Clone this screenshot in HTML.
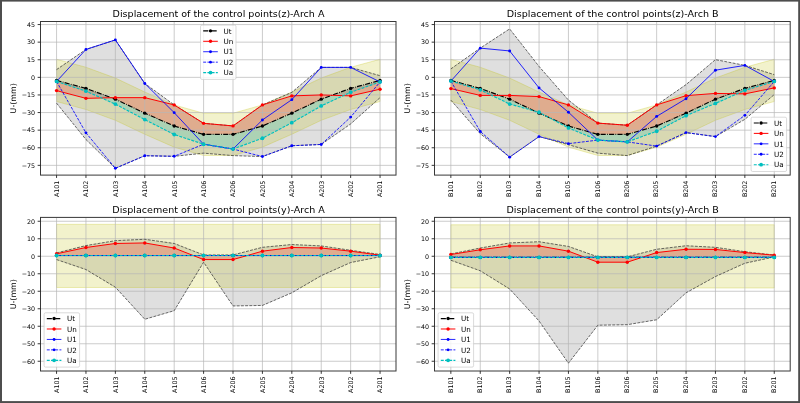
<!DOCTYPE html>
<html lang="en"><head><meta charset="utf-8">
<title>Displacement of the control points</title>
<style>
html,body{margin:0;padding:0;background:#ffffff;}
body{width:800px;height:403px;overflow:hidden;}
svg{display:block;font-family:'DejaVu Sans', 'Liberation Sans', sans-serif;}
text{fill:#000000;}
</style></head><body>
<svg width="800" height="403" viewBox="0 0 800 403">
<rect x="0" y="0" width="800" height="403" fill="#ffffff"/>
<g id="chart1">
<clipPath id="clip1"><rect x="40.5" y="21.5" width="355.5" height="153.6"/></clipPath>
<rect x="40.5" y="21.5" width="355.5" height="153.6" fill="#ffffff"/>
<g clip-path="url(#clip1)">
<polygon points="56.55,69.61 85.96,49.43 115.37,39.92 144.78,83.45 174.19,104.92 203.6,123.34 233.01,125.92 262.42,104.92 291.83,92.37 321.24,67.38 350.65,67.38 380.06,75.71 380.06,97.65 350.65,123.93 321.24,144.46 291.83,145.75 262.42,156.55 233.01,155.61 203.6,153.15 174.19,156.31 144.78,155.73 115.37,168.28 85.96,139.53 56.55,103.16" fill="#808080" fill-opacity="0.25" stroke="none"/>
<polygon points="56.55,59.28 85.96,67.26 115.37,78.05 144.78,92.02 174.19,104.92 203.6,113.25 233.01,113.25 262.42,104.92 291.83,92.02 321.24,78.05 350.65,67.26 380.06,59.28 380.06,101.52 350.65,109.5 321.24,120.29 291.83,134.26 262.42,147.16 233.01,155.49 203.6,155.49 174.19,147.16 144.78,134.26 115.37,120.29 85.96,109.5 56.55,101.52" fill="#bfbf00" fill-opacity="0.2" stroke="#bfbf00" stroke-opacity="0.45" stroke-width="0.6"/>
<polygon points="56.55,80.4 85.96,88.38 115.37,99.17 144.78,113.14 174.19,126.04 203.6,134.37 233.01,134.37 262.42,126.04 291.83,113.14 321.24,99.17 350.65,88.38 380.06,80.4 380.06,89.2 350.65,95.89 321.24,94.95 291.83,95.89 262.42,104.92 233.01,125.92 203.6,123.34 174.19,104.92 144.78,97.65 115.37,97.65 85.96,98.35 56.55,90.61" fill="#ff0000" fill-opacity="0.2"/>
<polygon points="56.55,80.4 85.96,88.38 115.37,99.17 144.78,113.14 174.19,126.04 203.6,134.37 233.01,134.37 262.42,126.04 291.83,113.14 321.24,99.17 350.65,88.38 380.06,80.4 380.06,81.93 350.65,92.25 321.24,105.92 291.83,122.7 262.42,138.24 233.01,149.04 203.6,144.23 174.19,134.49 144.78,119.59 115.37,104.1 85.96,91.14 56.55,81.46" fill="#00bfbf" fill-opacity="0.2"/>
<g stroke="#b6b6b6" stroke-width="0.7" fill="none">
<line x1="56.55" y1="21.5" x2="56.55" y2="175.1"/>
<line x1="85.96" y1="21.5" x2="85.96" y2="175.1"/>
<line x1="115.37" y1="21.5" x2="115.37" y2="175.1"/>
<line x1="144.78" y1="21.5" x2="144.78" y2="175.1"/>
<line x1="174.19" y1="21.5" x2="174.19" y2="175.1"/>
<line x1="203.6" y1="21.5" x2="203.6" y2="175.1"/>
<line x1="233.01" y1="21.5" x2="233.01" y2="175.1"/>
<line x1="262.42" y1="21.5" x2="262.42" y2="175.1"/>
<line x1="291.83" y1="21.5" x2="291.83" y2="175.1"/>
<line x1="321.24" y1="21.5" x2="321.24" y2="175.1"/>
<line x1="350.65" y1="21.5" x2="350.65" y2="175.1"/>
<line x1="380.06" y1="21.5" x2="380.06" y2="175.1"/>
<line x1="40.5" y1="24.55" x2="396" y2="24.55"/>
<line x1="40.5" y1="42.15" x2="396" y2="42.15"/>
<line x1="40.5" y1="59.75" x2="396" y2="59.75"/>
<line x1="40.5" y1="77.35" x2="396" y2="77.35"/>
<line x1="40.5" y1="94.95" x2="396" y2="94.95"/>
<line x1="40.5" y1="112.55" x2="396" y2="112.55"/>
<line x1="40.5" y1="130.15" x2="396" y2="130.15"/>
<line x1="40.5" y1="147.75" x2="396" y2="147.75"/>
<line x1="40.5" y1="165.35" x2="396" y2="165.35"/>
</g>
<polyline points="56.55,69.61 85.96,49.43 115.37,39.92 144.78,83.45 174.19,104.92 203.6,123.34 233.01,125.92 262.42,104.92 291.83,92.37 321.24,67.38 350.65,67.38 380.06,75.71" fill="none" stroke="#383838" stroke-width="0.75" stroke-dasharray="2.94,1.27"/>
<polyline points="56.55,103.16 85.96,139.53 115.37,168.28 144.78,155.73 174.19,156.31 203.6,153.15 233.01,155.61 262.42,156.55 291.83,145.75 321.24,144.46 350.65,123.93 380.06,97.65" fill="none" stroke="#383838" stroke-width="0.75" stroke-dasharray="2.94,1.27"/>
<polyline points="56.55,80.4 85.96,88.38 115.37,99.17 144.78,113.14 174.19,126.04 203.6,134.37 233.01,134.37 262.42,126.04 291.83,113.14 321.24,99.17 350.65,88.38 380.06,80.4" fill="none" stroke="#000000" stroke-width="1.15" stroke-dasharray="5.08,1.27,0.79,1.27" stroke-linejoin="round"/>
<g fill="#000000"><circle cx="56.55" cy="80.4" r="1.7"/><circle cx="85.96" cy="88.38" r="1.7"/><circle cx="115.37" cy="99.17" r="1.7"/><circle cx="144.78" cy="113.14" r="1.7"/><circle cx="174.19" cy="126.04" r="1.7"/><circle cx="203.6" cy="134.37" r="1.7"/><circle cx="233.01" cy="134.37" r="1.7"/><circle cx="262.42" cy="126.04" r="1.7"/><circle cx="291.83" cy="113.14" r="1.7"/><circle cx="321.24" cy="99.17" r="1.7"/><circle cx="350.65" cy="88.38" r="1.7"/><circle cx="380.06" cy="80.4" r="1.7"/></g>
<polyline points="56.55,90.61 85.96,98.35 115.37,97.65 144.78,97.65 174.19,104.92 203.6,123.34 233.01,125.92 262.42,104.92 291.83,95.89 321.24,94.95 350.65,95.89 380.06,89.2" fill="none" stroke="#ff0000" stroke-width="1.0" stroke-linejoin="round"/>
<g fill="#ff0000"><circle cx="56.55" cy="90.61" r="1.7"/><circle cx="85.96" cy="98.35" r="1.7"/><circle cx="115.37" cy="97.65" r="1.7"/><circle cx="144.78" cy="97.65" r="1.7"/><circle cx="174.19" cy="104.92" r="1.7"/><circle cx="203.6" cy="123.34" r="1.7"/><circle cx="233.01" cy="125.92" r="1.7"/><circle cx="262.42" cy="104.92" r="1.7"/><circle cx="291.83" cy="95.89" r="1.7"/><circle cx="321.24" cy="94.95" r="1.7"/><circle cx="350.65" cy="95.89" r="1.7"/><circle cx="380.06" cy="89.2" r="1.7"/></g>
<polyline points="56.55,81.46 85.96,49.43 115.37,39.92 144.78,83.45 174.19,112.67 203.6,144.23 233.01,149.04 262.42,119.94 291.83,99.64 321.24,67.38 350.65,67.38 380.06,81.93" fill="none" stroke="#0000ff" stroke-width="0.85" stroke-linejoin="round"/>
<g fill="#0000ff"><circle cx="56.55" cy="81.46" r="1.45"/><circle cx="85.96" cy="49.43" r="1.45"/><circle cx="115.37" cy="39.92" r="1.45"/><circle cx="144.78" cy="83.45" r="1.45"/><circle cx="174.19" cy="112.67" r="1.45"/><circle cx="203.6" cy="144.23" r="1.45"/><circle cx="233.01" cy="149.04" r="1.45"/><circle cx="262.42" cy="119.94" r="1.45"/><circle cx="291.83" cy="99.64" r="1.45"/><circle cx="321.24" cy="67.38" r="1.45"/><circle cx="350.65" cy="67.38" r="1.45"/><circle cx="380.06" cy="81.93" r="1.45"/></g>
<polyline points="56.55,81.46 85.96,132.85 115.37,168.28 144.78,155.73 174.19,156.31 203.6,144.23 233.01,149.04 262.42,156.55 291.83,145.75 321.24,144.46 350.65,117.12 380.06,81.93" fill="none" stroke="#0000ff" stroke-width="0.85" stroke-dasharray="2.94,1.27" stroke-linejoin="round"/>
<g fill="#0000ff"><circle cx="56.55" cy="81.46" r="1.45"/><circle cx="85.96" cy="132.85" r="1.45"/><circle cx="115.37" cy="168.28" r="1.45"/><circle cx="144.78" cy="155.73" r="1.45"/><circle cx="174.19" cy="156.31" r="1.45"/><circle cx="203.6" cy="144.23" r="1.45"/><circle cx="233.01" cy="149.04" r="1.45"/><circle cx="262.42" cy="156.55" r="1.45"/><circle cx="291.83" cy="145.75" r="1.45"/><circle cx="321.24" cy="144.46" r="1.45"/><circle cx="350.65" cy="117.12" r="1.45"/><circle cx="380.06" cy="81.93" r="1.45"/></g>
<polyline points="56.55,81.46 85.96,91.14 115.37,104.1 144.78,119.59 174.19,134.49 203.6,144.23 233.01,149.04 262.42,138.24 291.83,122.7 321.24,105.92 350.65,92.25 380.06,81.93" fill="none" stroke="#00bfbf" stroke-width="1.15" stroke-dasharray="2.94,1.27" stroke-linejoin="round"/>
<g fill="#00bfbf"><circle cx="56.55" cy="81.46" r="1.9"/><circle cx="85.96" cy="91.14" r="1.9"/><circle cx="115.37" cy="104.1" r="1.9"/><circle cx="144.78" cy="119.59" r="1.9"/><circle cx="174.19" cy="134.49" r="1.9"/><circle cx="203.6" cy="144.23" r="1.9"/><circle cx="233.01" cy="149.04" r="1.9"/><circle cx="262.42" cy="138.24" r="1.9"/><circle cx="291.83" cy="122.7" r="1.9"/><circle cx="321.24" cy="105.92" r="1.9"/><circle cx="350.65" cy="92.25" r="1.9"/><circle cx="380.06" cy="81.93" r="1.9"/></g>
</g>
<rect x="40.5" y="21.5" width="355.5" height="153.6" fill="none" stroke="#383838" stroke-width="1.0"/>
<g stroke="#222222" stroke-width="0.9">
<line x1="56.55" y1="175.1" x2="56.55" y2="177.95"/>
<line x1="85.96" y1="175.1" x2="85.96" y2="177.95"/>
<line x1="115.37" y1="175.1" x2="115.37" y2="177.95"/>
<line x1="144.78" y1="175.1" x2="144.78" y2="177.95"/>
<line x1="174.19" y1="175.1" x2="174.19" y2="177.95"/>
<line x1="203.6" y1="175.1" x2="203.6" y2="177.95"/>
<line x1="233.01" y1="175.1" x2="233.01" y2="177.95"/>
<line x1="262.42" y1="175.1" x2="262.42" y2="177.95"/>
<line x1="291.83" y1="175.1" x2="291.83" y2="177.95"/>
<line x1="321.24" y1="175.1" x2="321.24" y2="177.95"/>
<line x1="350.65" y1="175.1" x2="350.65" y2="177.95"/>
<line x1="380.06" y1="175.1" x2="380.06" y2="177.95"/>
<line x1="37.65" y1="24.55" x2="40.5" y2="24.55"/>
<line x1="37.65" y1="42.15" x2="40.5" y2="42.15"/>
<line x1="37.65" y1="59.75" x2="40.5" y2="59.75"/>
<line x1="37.65" y1="77.35" x2="40.5" y2="77.35"/>
<line x1="37.65" y1="94.95" x2="40.5" y2="94.95"/>
<line x1="37.65" y1="112.55" x2="40.5" y2="112.55"/>
<line x1="37.65" y1="130.15" x2="40.5" y2="130.15"/>
<line x1="37.65" y1="147.75" x2="40.5" y2="147.75"/>
<line x1="37.65" y1="165.35" x2="40.5" y2="165.35"/>
</g>
<g font-size="6.35">
<text x="35.1" y="26.87" text-anchor="end">45</text>
<text x="35.1" y="44.47" text-anchor="end">30</text>
<text x="35.1" y="62.07" text-anchor="end">15</text>
<text x="35.1" y="79.67" text-anchor="end">0</text>
<text x="35.1" y="97.27" text-anchor="end">−15</text>
<text x="35.1" y="114.87" text-anchor="end">−30</text>
<text x="35.1" y="132.47" text-anchor="end">−45</text>
<text x="35.1" y="150.07" text-anchor="end">−60</text>
<text x="35.1" y="167.67" text-anchor="end">−75</text>
<text transform="translate(58.87,180.6) rotate(-90)" text-anchor="end">A101</text>
<text transform="translate(88.28,180.6) rotate(-90)" text-anchor="end">A102</text>
<text transform="translate(117.69,180.6) rotate(-90)" text-anchor="end">A103</text>
<text transform="translate(147.1,180.6) rotate(-90)" text-anchor="end">A104</text>
<text transform="translate(176.51,180.6) rotate(-90)" text-anchor="end">A105</text>
<text transform="translate(205.92,180.6) rotate(-90)" text-anchor="end">A106</text>
<text transform="translate(235.33,180.6) rotate(-90)" text-anchor="end">A206</text>
<text transform="translate(264.74,180.6) rotate(-90)" text-anchor="end">A205</text>
<text transform="translate(294.15,180.6) rotate(-90)" text-anchor="end">A204</text>
<text transform="translate(323.56,180.6) rotate(-90)" text-anchor="end">A203</text>
<text transform="translate(352.97,180.6) rotate(-90)" text-anchor="end">A202</text>
<text transform="translate(382.38,180.6) rotate(-90)" text-anchor="end">A201</text>
</g>
<text font-size="7.9" transform="translate(15.9,98.3) rotate(-90)" text-anchor="middle">U-(mm)</text>
<text font-size="9.55" x="218.55" y="16.8" text-anchor="middle">Displacement of the control points(z)-Arch A</text>
<g>
<rect x="200.5" y="25.1" width="35.5" height="54.3" rx="1.5" ry="1.5" fill="#ffffff" fill-opacity="0.8" stroke="#c8c8c8" stroke-opacity="0.85" stroke-width="0.8"/>
<line x1="203.2" y1="30.85" x2="217.8" y2="30.85" stroke="#000000" stroke-width="1.15" stroke-dasharray="5.08,1.27,0.79,1.27"/>
<circle cx="210.5" cy="30.85" r="1.7" fill="#000000"/>
<text font-size="7.2" x="223.4" y="33.6">Ut</text>
<line x1="203.2" y1="41.29" x2="217.8" y2="41.29" stroke="#ff0000" stroke-width="1.0"/>
<circle cx="210.5" cy="41.29" r="1.7" fill="#ff0000"/>
<text font-size="7.2" x="223.4" y="44.04">Un</text>
<line x1="203.2" y1="51.73" x2="217.8" y2="51.73" stroke="#0000ff" stroke-width="0.85"/>
<circle cx="210.5" cy="51.73" r="1.45" fill="#0000ff"/>
<text font-size="7.2" x="223.4" y="54.48">U1</text>
<line x1="203.2" y1="62.17" x2="217.8" y2="62.17" stroke="#0000ff" stroke-width="0.85" stroke-dasharray="2.94,1.27"/>
<circle cx="210.5" cy="62.17" r="1.45" fill="#0000ff"/>
<text font-size="7.2" x="223.4" y="64.92">U2</text>
<line x1="203.2" y1="72.61" x2="217.8" y2="72.61" stroke="#00bfbf" stroke-width="1.15" stroke-dasharray="2.94,1.27"/>
<circle cx="210.5" cy="72.61" r="1.9" fill="#00bfbf"/>
<text font-size="7.2" x="223.4" y="75.36">Ua</text>
</g>
</g>
<g id="chart2">
<clipPath id="clip2"><rect x="434.5" y="21.5" width="355.7" height="153.6"/></clipPath>
<rect x="434.5" y="21.5" width="355.7" height="153.6" fill="#ffffff"/>
<g clip-path="url(#clip2)">
<polygon points="450.85,68.9 480.25,48.13 509.65,28.89 539.05,66.44 568.45,100.11 597.85,123.11 627.25,125.22 656.65,104.92 686.05,84.62 715.45,59.63 744.85,65.38 774.25,74.65 774.25,94.6 744.85,119.35 715.45,136.6 686.05,132.61 656.65,146.11 627.25,155.61 597.85,153.15 568.45,144.7 539.05,136.6 509.65,157.13 480.25,133.67 450.85,100.11" fill="#808080" fill-opacity="0.25" stroke="none"/>
<polygon points="450.85,59.28 480.25,67.26 509.65,78.05 539.05,92.02 568.45,104.92 597.85,113.25 627.25,113.25 656.65,104.92 686.05,92.02 715.45,78.05 744.85,67.26 774.25,59.28 774.25,101.52 744.85,109.5 715.45,120.29 686.05,134.26 656.65,147.16 627.25,155.49 597.85,155.49 568.45,147.16 539.05,134.26 509.65,120.29 480.25,109.5 450.85,101.52" fill="#bfbf00" fill-opacity="0.2" stroke="#bfbf00" stroke-opacity="0.45" stroke-width="0.6"/>
<polygon points="450.85,80.4 480.25,88.38 509.65,99.17 539.05,113.14 568.45,126.04 597.85,134.37 627.25,134.37 656.65,126.04 686.05,113.14 715.45,99.17 744.85,88.38 774.25,80.4 774.25,87.91 744.85,93.89 715.45,93.42 686.05,95.65 656.65,104.92 627.25,125.22 597.85,123.11 568.45,104.92 539.05,96.59 509.65,95.42 480.25,95.42 450.85,88.61" fill="#ff0000" fill-opacity="0.2"/>
<polygon points="450.85,80.4 480.25,88.38 509.65,99.17 539.05,113.14 568.45,126.04 597.85,134.37 627.25,134.37 656.65,126.04 686.05,113.14 715.45,99.17 744.85,88.38 774.25,80.4 774.25,81.46 744.85,90.37 715.45,103.4 686.05,115.66 656.65,131.26 627.25,141.88 597.85,140.12 568.45,127.92 539.05,112.26 509.65,104.04 480.25,89.79 450.85,81.1" fill="#00bfbf" fill-opacity="0.2"/>
<g stroke="#b6b6b6" stroke-width="0.7" fill="none">
<line x1="450.85" y1="21.5" x2="450.85" y2="175.1"/>
<line x1="480.25" y1="21.5" x2="480.25" y2="175.1"/>
<line x1="509.65" y1="21.5" x2="509.65" y2="175.1"/>
<line x1="539.05" y1="21.5" x2="539.05" y2="175.1"/>
<line x1="568.45" y1="21.5" x2="568.45" y2="175.1"/>
<line x1="597.85" y1="21.5" x2="597.85" y2="175.1"/>
<line x1="627.25" y1="21.5" x2="627.25" y2="175.1"/>
<line x1="656.65" y1="21.5" x2="656.65" y2="175.1"/>
<line x1="686.05" y1="21.5" x2="686.05" y2="175.1"/>
<line x1="715.45" y1="21.5" x2="715.45" y2="175.1"/>
<line x1="744.85" y1="21.5" x2="744.85" y2="175.1"/>
<line x1="774.25" y1="21.5" x2="774.25" y2="175.1"/>
<line x1="434.5" y1="24.55" x2="790.2" y2="24.55"/>
<line x1="434.5" y1="42.15" x2="790.2" y2="42.15"/>
<line x1="434.5" y1="59.75" x2="790.2" y2="59.75"/>
<line x1="434.5" y1="77.35" x2="790.2" y2="77.35"/>
<line x1="434.5" y1="94.95" x2="790.2" y2="94.95"/>
<line x1="434.5" y1="112.55" x2="790.2" y2="112.55"/>
<line x1="434.5" y1="130.15" x2="790.2" y2="130.15"/>
<line x1="434.5" y1="147.75" x2="790.2" y2="147.75"/>
<line x1="434.5" y1="165.35" x2="790.2" y2="165.35"/>
</g>
<polyline points="450.85,68.9 480.25,48.13 509.65,28.89 539.05,66.44 568.45,100.11 597.85,123.11 627.25,125.22 656.65,104.92 686.05,84.62 715.45,59.63 744.85,65.38 774.25,74.65" fill="none" stroke="#383838" stroke-width="0.75" stroke-dasharray="2.94,1.27"/>
<polyline points="450.85,100.11 480.25,133.67 509.65,157.13 539.05,136.6 568.45,144.7 597.85,153.15 627.25,155.61 656.65,146.11 686.05,132.61 715.45,136.6 744.85,119.35 774.25,94.6" fill="none" stroke="#383838" stroke-width="0.75" stroke-dasharray="2.94,1.27"/>
<polyline points="450.85,80.4 480.25,88.38 509.65,99.17 539.05,113.14 568.45,126.04 597.85,134.37 627.25,134.37 656.65,126.04 686.05,113.14 715.45,99.17 744.85,88.38 774.25,80.4" fill="none" stroke="#000000" stroke-width="1.15" stroke-dasharray="5.08,1.27,0.79,1.27" stroke-linejoin="round"/>
<g fill="#000000"><circle cx="450.85" cy="80.4" r="1.7"/><circle cx="480.25" cy="88.38" r="1.7"/><circle cx="509.65" cy="99.17" r="1.7"/><circle cx="539.05" cy="113.14" r="1.7"/><circle cx="568.45" cy="126.04" r="1.7"/><circle cx="597.85" cy="134.37" r="1.7"/><circle cx="627.25" cy="134.37" r="1.7"/><circle cx="656.65" cy="126.04" r="1.7"/><circle cx="686.05" cy="113.14" r="1.7"/><circle cx="715.45" cy="99.17" r="1.7"/><circle cx="744.85" cy="88.38" r="1.7"/><circle cx="774.25" cy="80.4" r="1.7"/></g>
<polyline points="450.85,88.61 480.25,95.42 509.65,95.42 539.05,96.59 568.45,104.92 597.85,123.11 627.25,125.22 656.65,104.92 686.05,95.65 715.45,93.42 744.85,93.89 774.25,87.91" fill="none" stroke="#ff0000" stroke-width="1.0" stroke-linejoin="round"/>
<g fill="#ff0000"><circle cx="450.85" cy="88.61" r="1.7"/><circle cx="480.25" cy="95.42" r="1.7"/><circle cx="509.65" cy="95.42" r="1.7"/><circle cx="539.05" cy="96.59" r="1.7"/><circle cx="568.45" cy="104.92" r="1.7"/><circle cx="597.85" cy="123.11" r="1.7"/><circle cx="627.25" cy="125.22" r="1.7"/><circle cx="656.65" cy="104.92" r="1.7"/><circle cx="686.05" cy="95.65" r="1.7"/><circle cx="715.45" cy="93.42" r="1.7"/><circle cx="744.85" cy="93.89" r="1.7"/><circle cx="774.25" cy="87.91" r="1.7"/></g>
<polyline points="450.85,81.1 480.25,48.13 509.65,50.95 539.05,87.91 568.45,112.2 597.85,140.12 627.25,141.88 656.65,116.42 686.05,98.7 715.45,70.19 744.85,65.38 774.25,81.46" fill="none" stroke="#0000ff" stroke-width="0.85" stroke-linejoin="round"/>
<g fill="#0000ff"><circle cx="450.85" cy="81.1" r="1.45"/><circle cx="480.25" cy="48.13" r="1.45"/><circle cx="509.65" cy="50.95" r="1.45"/><circle cx="539.05" cy="87.91" r="1.45"/><circle cx="568.45" cy="112.2" r="1.45"/><circle cx="597.85" cy="140.12" r="1.45"/><circle cx="627.25" cy="141.88" r="1.45"/><circle cx="656.65" cy="116.42" r="1.45"/><circle cx="686.05" cy="98.7" r="1.45"/><circle cx="715.45" cy="70.19" r="1.45"/><circle cx="744.85" cy="65.38" r="1.45"/><circle cx="774.25" cy="81.46" r="1.45"/></g>
<polyline points="450.85,81.1 480.25,131.44 509.65,157.13 539.05,136.6 568.45,143.64 597.85,140.12 627.25,141.88 656.65,146.11 686.05,132.61 715.45,136.6 744.85,115.36 774.25,81.46" fill="none" stroke="#0000ff" stroke-width="0.85" stroke-dasharray="2.94,1.27" stroke-linejoin="round"/>
<g fill="#0000ff"><circle cx="450.85" cy="81.1" r="1.45"/><circle cx="480.25" cy="131.44" r="1.45"/><circle cx="509.65" cy="157.13" r="1.45"/><circle cx="539.05" cy="136.6" r="1.45"/><circle cx="568.45" cy="143.64" r="1.45"/><circle cx="597.85" cy="140.12" r="1.45"/><circle cx="627.25" cy="141.88" r="1.45"/><circle cx="656.65" cy="146.11" r="1.45"/><circle cx="686.05" cy="132.61" r="1.45"/><circle cx="715.45" cy="136.6" r="1.45"/><circle cx="744.85" cy="115.36" r="1.45"/><circle cx="774.25" cy="81.46" r="1.45"/></g>
<polyline points="450.85,81.1 480.25,89.79 509.65,104.04 539.05,112.26 568.45,127.92 597.85,140.12 627.25,141.88 656.65,131.26 686.05,115.66 715.45,103.4 744.85,90.37 774.25,81.46" fill="none" stroke="#00bfbf" stroke-width="1.15" stroke-dasharray="2.94,1.27" stroke-linejoin="round"/>
<g fill="#00bfbf"><circle cx="450.85" cy="81.1" r="1.9"/><circle cx="480.25" cy="89.79" r="1.9"/><circle cx="509.65" cy="104.04" r="1.9"/><circle cx="539.05" cy="112.26" r="1.9"/><circle cx="568.45" cy="127.92" r="1.9"/><circle cx="597.85" cy="140.12" r="1.9"/><circle cx="627.25" cy="141.88" r="1.9"/><circle cx="656.65" cy="131.26" r="1.9"/><circle cx="686.05" cy="115.66" r="1.9"/><circle cx="715.45" cy="103.4" r="1.9"/><circle cx="744.85" cy="90.37" r="1.9"/><circle cx="774.25" cy="81.46" r="1.9"/></g>
</g>
<rect x="434.5" y="21.5" width="355.7" height="153.6" fill="none" stroke="#383838" stroke-width="1.0"/>
<g stroke="#222222" stroke-width="0.9">
<line x1="450.85" y1="175.1" x2="450.85" y2="177.95"/>
<line x1="480.25" y1="175.1" x2="480.25" y2="177.95"/>
<line x1="509.65" y1="175.1" x2="509.65" y2="177.95"/>
<line x1="539.05" y1="175.1" x2="539.05" y2="177.95"/>
<line x1="568.45" y1="175.1" x2="568.45" y2="177.95"/>
<line x1="597.85" y1="175.1" x2="597.85" y2="177.95"/>
<line x1="627.25" y1="175.1" x2="627.25" y2="177.95"/>
<line x1="656.65" y1="175.1" x2="656.65" y2="177.95"/>
<line x1="686.05" y1="175.1" x2="686.05" y2="177.95"/>
<line x1="715.45" y1="175.1" x2="715.45" y2="177.95"/>
<line x1="744.85" y1="175.1" x2="744.85" y2="177.95"/>
<line x1="774.25" y1="175.1" x2="774.25" y2="177.95"/>
<line x1="431.65" y1="24.55" x2="434.5" y2="24.55"/>
<line x1="431.65" y1="42.15" x2="434.5" y2="42.15"/>
<line x1="431.65" y1="59.75" x2="434.5" y2="59.75"/>
<line x1="431.65" y1="77.35" x2="434.5" y2="77.35"/>
<line x1="431.65" y1="94.95" x2="434.5" y2="94.95"/>
<line x1="431.65" y1="112.55" x2="434.5" y2="112.55"/>
<line x1="431.65" y1="130.15" x2="434.5" y2="130.15"/>
<line x1="431.65" y1="147.75" x2="434.5" y2="147.75"/>
<line x1="431.65" y1="165.35" x2="434.5" y2="165.35"/>
</g>
<g font-size="6.35">
<text x="429.1" y="26.87" text-anchor="end">45</text>
<text x="429.1" y="44.47" text-anchor="end">30</text>
<text x="429.1" y="62.07" text-anchor="end">15</text>
<text x="429.1" y="79.67" text-anchor="end">0</text>
<text x="429.1" y="97.27" text-anchor="end">−15</text>
<text x="429.1" y="114.87" text-anchor="end">−30</text>
<text x="429.1" y="132.47" text-anchor="end">−45</text>
<text x="429.1" y="150.07" text-anchor="end">−60</text>
<text x="429.1" y="167.67" text-anchor="end">−75</text>
<text transform="translate(452.57,180.6) rotate(-90)" text-anchor="end">B101</text>
<text transform="translate(481.97,180.6) rotate(-90)" text-anchor="end">B102</text>
<text transform="translate(511.37,180.6) rotate(-90)" text-anchor="end">B103</text>
<text transform="translate(540.77,180.6) rotate(-90)" text-anchor="end">B104</text>
<text transform="translate(570.17,180.6) rotate(-90)" text-anchor="end">B105</text>
<text transform="translate(599.57,180.6) rotate(-90)" text-anchor="end">B106</text>
<text transform="translate(628.97,180.6) rotate(-90)" text-anchor="end">B206</text>
<text transform="translate(658.37,180.6) rotate(-90)" text-anchor="end">B205</text>
<text transform="translate(687.77,180.6) rotate(-90)" text-anchor="end">B204</text>
<text transform="translate(717.17,180.6) rotate(-90)" text-anchor="end">B203</text>
<text transform="translate(746.57,180.6) rotate(-90)" text-anchor="end">B202</text>
<text transform="translate(775.97,180.6) rotate(-90)" text-anchor="end">B201</text>
</g>
<text font-size="7.9" transform="translate(409.9,98.3) rotate(-90)" text-anchor="middle">U-(mm)</text>
<text font-size="9.55" x="612.65" y="16.8" text-anchor="middle">Displacement of the control points(z)-Arch B</text>
<g>
<rect x="751.1" y="117.2" width="35.5" height="54.3" rx="1.5" ry="1.5" fill="#ffffff" fill-opacity="0.8" stroke="#c8c8c8" stroke-opacity="0.85" stroke-width="0.8"/>
<line x1="753.8" y1="122.95" x2="768.4" y2="122.95" stroke="#000000" stroke-width="1.15" stroke-dasharray="5.08,1.27,0.79,1.27"/>
<circle cx="761.1" cy="122.95" r="1.7" fill="#000000"/>
<text font-size="7.2" x="774" y="125.7">Ut</text>
<line x1="753.8" y1="133.39" x2="768.4" y2="133.39" stroke="#ff0000" stroke-width="1.0"/>
<circle cx="761.1" cy="133.39" r="1.7" fill="#ff0000"/>
<text font-size="7.2" x="774" y="136.14">Un</text>
<line x1="753.8" y1="143.83" x2="768.4" y2="143.83" stroke="#0000ff" stroke-width="0.85"/>
<circle cx="761.1" cy="143.83" r="1.45" fill="#0000ff"/>
<text font-size="7.2" x="774" y="146.58">U1</text>
<line x1="753.8" y1="154.27" x2="768.4" y2="154.27" stroke="#0000ff" stroke-width="0.85" stroke-dasharray="2.94,1.27"/>
<circle cx="761.1" cy="154.27" r="1.45" fill="#0000ff"/>
<text font-size="7.2" x="774" y="157.02">U2</text>
<line x1="753.8" y1="164.71" x2="768.4" y2="164.71" stroke="#00bfbf" stroke-width="1.15" stroke-dasharray="2.94,1.27"/>
<circle cx="761.1" cy="164.71" r="1.9" fill="#00bfbf"/>
<text font-size="7.2" x="774" y="167.46">Ua</text>
</g>
</g>
<g id="chart3">
<clipPath id="clip3"><rect x="40.5" y="217.4" width="355.5" height="153.6"/></clipPath>
<rect x="40.5" y="217.4" width="355.5" height="153.6" fill="#ffffff"/>
<g clip-path="url(#clip3)">
<polygon points="56.55,252.93 85.96,245.57 115.37,240.68 144.78,239.28 174.19,243.47 203.6,254.94 233.01,254.94 262.42,247.32 291.83,244.53 321.24,245.93 350.65,250.3 380.06,254.5 380.06,256.77 350.65,262.55 321.24,275.68 291.83,292.82 262.42,305.43 233.01,305.95 203.6,262.2 174.19,310.68 144.78,319.25 115.37,287.23 85.96,269.55 56.55,259.57" fill="#808080" fill-opacity="0.25" stroke="none"/>
<polygon points="56.55,224.31 85.96,224.31 115.37,224.31 144.78,224.31 174.19,224.31 203.6,224.31 233.01,224.31 262.42,224.31 291.83,224.31 321.24,224.31 350.65,224.31 380.06,224.31 380.06,287.49 350.65,287.49 321.24,287.49 291.83,287.49 262.42,287.49 233.01,287.49 203.6,287.49 174.19,287.49 144.78,287.49 115.37,287.49 85.96,287.49 56.55,287.49" fill="#bfbf00" fill-opacity="0.2" stroke="#bfbf00" stroke-opacity="0.45" stroke-width="0.6"/>
<polygon points="56.55,255.5 85.96,255.5 115.37,255.5 144.78,255.5 174.19,255.5 203.6,255.5 233.01,255.5 262.42,255.5 291.83,255.5 321.24,255.5 350.65,255.5 380.06,255.5 380.06,255.2 350.65,251.18 321.24,248.03 291.83,247.5 262.42,251.18 233.01,259.57 203.6,259.57 174.19,248.03 144.78,242.95 115.37,243.47 85.96,247.5 56.55,253.8" fill="#ff0000" fill-opacity="0.2"/>
<polygon points="56.55,255.5 85.96,255.5 115.37,255.5 144.78,255.5 174.19,255.5 203.6,255.5 233.01,255.5 262.42,255.5 291.83,255.5 321.24,255.5 350.65,255.5 380.06,255.5 380.06,255.5 350.65,255.5 321.24,255.5 291.83,255.5 262.42,255.5 233.01,255.5 203.6,255.5 174.19,255.5 144.78,255.5 115.37,255.5 85.96,255.5 56.55,255.5" fill="#00bfbf" fill-opacity="0.2"/>
<g stroke="#b6b6b6" stroke-width="0.7" fill="none">
<line x1="56.55" y1="217.4" x2="56.55" y2="371"/>
<line x1="85.96" y1="217.4" x2="85.96" y2="371"/>
<line x1="115.37" y1="217.4" x2="115.37" y2="371"/>
<line x1="144.78" y1="217.4" x2="144.78" y2="371"/>
<line x1="174.19" y1="217.4" x2="174.19" y2="371"/>
<line x1="203.6" y1="217.4" x2="203.6" y2="371"/>
<line x1="233.01" y1="217.4" x2="233.01" y2="371"/>
<line x1="262.42" y1="217.4" x2="262.42" y2="371"/>
<line x1="291.83" y1="217.4" x2="291.83" y2="371"/>
<line x1="321.24" y1="217.4" x2="321.24" y2="371"/>
<line x1="350.65" y1="217.4" x2="350.65" y2="371"/>
<line x1="380.06" y1="217.4" x2="380.06" y2="371"/>
<line x1="40.5" y1="221.25" x2="396" y2="221.25"/>
<line x1="40.5" y1="238.75" x2="396" y2="238.75"/>
<line x1="40.5" y1="256.25" x2="396" y2="256.25"/>
<line x1="40.5" y1="273.75" x2="396" y2="273.75"/>
<line x1="40.5" y1="291.25" x2="396" y2="291.25"/>
<line x1="40.5" y1="308.75" x2="396" y2="308.75"/>
<line x1="40.5" y1="326.25" x2="396" y2="326.25"/>
<line x1="40.5" y1="343.75" x2="396" y2="343.75"/>
<line x1="40.5" y1="361.25" x2="396" y2="361.25"/>
</g>
<polyline points="56.55,252.93 85.96,245.57 115.37,240.68 144.78,239.28 174.19,243.47 203.6,254.94 233.01,254.94 262.42,247.32 291.83,244.53 321.24,245.93 350.65,250.3 380.06,254.5" fill="none" stroke="#383838" stroke-width="0.75" stroke-dasharray="2.94,1.27"/>
<polyline points="56.55,259.57 85.96,269.55 115.37,287.23 144.78,319.25 174.19,310.68 203.6,262.2 233.01,305.95 262.42,305.43 291.83,292.82 321.24,275.68 350.65,262.55 380.06,256.77" fill="none" stroke="#383838" stroke-width="0.75" stroke-dasharray="2.94,1.27"/>
<polyline points="56.55,255.5 85.96,255.5 115.37,255.5 144.78,255.5 174.19,255.5 203.6,255.5 233.01,255.5 262.42,255.5 291.83,255.5 321.24,255.5 350.65,255.5 380.06,255.5" fill="none" stroke="#000000" stroke-width="1.15" stroke-dasharray="5.08,1.27,0.79,1.27" stroke-linejoin="round"/>
<g fill="#000000"><circle cx="56.55" cy="255.5" r="1.7"/><circle cx="85.96" cy="255.5" r="1.7"/><circle cx="115.37" cy="255.5" r="1.7"/><circle cx="144.78" cy="255.5" r="1.7"/><circle cx="174.19" cy="255.5" r="1.7"/><circle cx="203.6" cy="255.5" r="1.7"/><circle cx="233.01" cy="255.5" r="1.7"/><circle cx="262.42" cy="255.5" r="1.7"/><circle cx="291.83" cy="255.5" r="1.7"/><circle cx="321.24" cy="255.5" r="1.7"/><circle cx="350.65" cy="255.5" r="1.7"/><circle cx="380.06" cy="255.5" r="1.7"/></g>
<polyline points="56.55,253.8 85.96,247.5 115.37,243.47 144.78,242.95 174.19,248.03 203.6,259.57 233.01,259.57 262.42,251.18 291.83,247.5 321.24,248.03 350.65,251.18 380.06,255.2" fill="none" stroke="#ff0000" stroke-width="1.0" stroke-linejoin="round"/>
<g fill="#ff0000"><circle cx="56.55" cy="253.8" r="1.7"/><circle cx="85.96" cy="247.5" r="1.7"/><circle cx="115.37" cy="243.47" r="1.7"/><circle cx="144.78" cy="242.95" r="1.7"/><circle cx="174.19" cy="248.03" r="1.7"/><circle cx="203.6" cy="259.57" r="1.7"/><circle cx="233.01" cy="259.57" r="1.7"/><circle cx="262.42" cy="251.18" r="1.7"/><circle cx="291.83" cy="247.5" r="1.7"/><circle cx="321.24" cy="248.03" r="1.7"/><circle cx="350.65" cy="251.18" r="1.7"/><circle cx="380.06" cy="255.2" r="1.7"/></g>
<polyline points="56.55,255.5 85.96,255.5 115.37,255.5 144.78,255.5 174.19,255.5 203.6,255.5 233.01,255.5 262.42,255.5 291.83,255.5 321.24,255.5 350.65,255.5 380.06,255.5" fill="none" stroke="#0000ff" stroke-width="0.85" stroke-linejoin="round"/>
<g fill="#0000ff"><circle cx="56.55" cy="255.5" r="1.45"/><circle cx="85.96" cy="255.5" r="1.45"/><circle cx="115.37" cy="255.5" r="1.45"/><circle cx="144.78" cy="255.5" r="1.45"/><circle cx="174.19" cy="255.5" r="1.45"/><circle cx="203.6" cy="255.5" r="1.45"/><circle cx="233.01" cy="255.5" r="1.45"/><circle cx="262.42" cy="255.5" r="1.45"/><circle cx="291.83" cy="255.5" r="1.45"/><circle cx="321.24" cy="255.5" r="1.45"/><circle cx="350.65" cy="255.5" r="1.45"/><circle cx="380.06" cy="255.5" r="1.45"/></g>
<polyline points="56.55,255.5 85.96,255.5 115.37,255.5 144.78,255.5 174.19,255.5 203.6,255.5 233.01,255.5 262.42,255.5 291.83,255.5 321.24,255.5 350.65,255.5 380.06,255.5" fill="none" stroke="#0000ff" stroke-width="0.85" stroke-dasharray="2.94,1.27" stroke-linejoin="round"/>
<g fill="#0000ff"><circle cx="56.55" cy="255.5" r="1.45"/><circle cx="85.96" cy="255.5" r="1.45"/><circle cx="115.37" cy="255.5" r="1.45"/><circle cx="144.78" cy="255.5" r="1.45"/><circle cx="174.19" cy="255.5" r="1.45"/><circle cx="203.6" cy="255.5" r="1.45"/><circle cx="233.01" cy="255.5" r="1.45"/><circle cx="262.42" cy="255.5" r="1.45"/><circle cx="291.83" cy="255.5" r="1.45"/><circle cx="321.24" cy="255.5" r="1.45"/><circle cx="350.65" cy="255.5" r="1.45"/><circle cx="380.06" cy="255.5" r="1.45"/></g>
<polyline points="56.55,255.5 85.96,255.5 115.37,255.5 144.78,255.5 174.19,255.5 203.6,255.5 233.01,255.5 262.42,255.5 291.83,255.5 321.24,255.5 350.65,255.5 380.06,255.5" fill="none" stroke="#00bfbf" stroke-width="1.15" stroke-dasharray="2.94,1.27" stroke-linejoin="round"/>
<g fill="#00bfbf"><circle cx="56.55" cy="255.5" r="1.9"/><circle cx="85.96" cy="255.5" r="1.9"/><circle cx="115.37" cy="255.5" r="1.9"/><circle cx="144.78" cy="255.5" r="1.9"/><circle cx="174.19" cy="255.5" r="1.9"/><circle cx="203.6" cy="255.5" r="1.9"/><circle cx="233.01" cy="255.5" r="1.9"/><circle cx="262.42" cy="255.5" r="1.9"/><circle cx="291.83" cy="255.5" r="1.9"/><circle cx="321.24" cy="255.5" r="1.9"/><circle cx="350.65" cy="255.5" r="1.9"/><circle cx="380.06" cy="255.5" r="1.9"/></g>
</g>
<rect x="40.5" y="217.4" width="355.5" height="153.6" fill="none" stroke="#383838" stroke-width="1.0"/>
<g stroke="#222222" stroke-width="0.9">
<line x1="56.55" y1="371" x2="56.55" y2="373.85"/>
<line x1="85.96" y1="371" x2="85.96" y2="373.85"/>
<line x1="115.37" y1="371" x2="115.37" y2="373.85"/>
<line x1="144.78" y1="371" x2="144.78" y2="373.85"/>
<line x1="174.19" y1="371" x2="174.19" y2="373.85"/>
<line x1="203.6" y1="371" x2="203.6" y2="373.85"/>
<line x1="233.01" y1="371" x2="233.01" y2="373.85"/>
<line x1="262.42" y1="371" x2="262.42" y2="373.85"/>
<line x1="291.83" y1="371" x2="291.83" y2="373.85"/>
<line x1="321.24" y1="371" x2="321.24" y2="373.85"/>
<line x1="350.65" y1="371" x2="350.65" y2="373.85"/>
<line x1="380.06" y1="371" x2="380.06" y2="373.85"/>
<line x1="37.65" y1="221.25" x2="40.5" y2="221.25"/>
<line x1="37.65" y1="238.75" x2="40.5" y2="238.75"/>
<line x1="37.65" y1="256.25" x2="40.5" y2="256.25"/>
<line x1="37.65" y1="273.75" x2="40.5" y2="273.75"/>
<line x1="37.65" y1="291.25" x2="40.5" y2="291.25"/>
<line x1="37.65" y1="308.75" x2="40.5" y2="308.75"/>
<line x1="37.65" y1="326.25" x2="40.5" y2="326.25"/>
<line x1="37.65" y1="343.75" x2="40.5" y2="343.75"/>
<line x1="37.65" y1="361.25" x2="40.5" y2="361.25"/>
</g>
<g font-size="6.35">
<text x="35.1" y="223.57" text-anchor="end">20</text>
<text x="35.1" y="241.07" text-anchor="end">10</text>
<text x="35.1" y="258.57" text-anchor="end">0</text>
<text x="35.1" y="276.07" text-anchor="end">−10</text>
<text x="35.1" y="293.57" text-anchor="end">−20</text>
<text x="35.1" y="311.07" text-anchor="end">−30</text>
<text x="35.1" y="328.57" text-anchor="end">−40</text>
<text x="35.1" y="346.07" text-anchor="end">−50</text>
<text x="35.1" y="363.57" text-anchor="end">−60</text>
<text transform="translate(58.87,376.5) rotate(-90)" text-anchor="end">A101</text>
<text transform="translate(88.28,376.5) rotate(-90)" text-anchor="end">A102</text>
<text transform="translate(117.69,376.5) rotate(-90)" text-anchor="end">A103</text>
<text transform="translate(147.1,376.5) rotate(-90)" text-anchor="end">A104</text>
<text transform="translate(176.51,376.5) rotate(-90)" text-anchor="end">A105</text>
<text transform="translate(205.92,376.5) rotate(-90)" text-anchor="end">A106</text>
<text transform="translate(235.33,376.5) rotate(-90)" text-anchor="end">A206</text>
<text transform="translate(264.74,376.5) rotate(-90)" text-anchor="end">A205</text>
<text transform="translate(294.15,376.5) rotate(-90)" text-anchor="end">A204</text>
<text transform="translate(323.56,376.5) rotate(-90)" text-anchor="end">A203</text>
<text transform="translate(352.97,376.5) rotate(-90)" text-anchor="end">A202</text>
<text transform="translate(382.38,376.5) rotate(-90)" text-anchor="end">A201</text>
</g>
<text font-size="7.9" transform="translate(15.9,294.2) rotate(-90)" text-anchor="middle">U-(mm)</text>
<text font-size="9.55" x="218.55" y="212.7" text-anchor="middle">Displacement of the control points(y)-Arch A</text>
<g>
<rect x="44.1" y="312.8" width="35.5" height="54.3" rx="1.5" ry="1.5" fill="#ffffff" fill-opacity="0.8" stroke="#c8c8c8" stroke-opacity="0.85" stroke-width="0.8"/>
<line x1="46.8" y1="318.55" x2="61.4" y2="318.55" stroke="#000000" stroke-width="1.15" stroke-dasharray="5.08,1.27,0.79,1.27"/>
<circle cx="54.1" cy="318.55" r="1.7" fill="#000000"/>
<text font-size="7.2" x="67" y="321.3">Ut</text>
<line x1="46.8" y1="328.99" x2="61.4" y2="328.99" stroke="#ff0000" stroke-width="1.0"/>
<circle cx="54.1" cy="328.99" r="1.7" fill="#ff0000"/>
<text font-size="7.2" x="67" y="331.74">Un</text>
<line x1="46.8" y1="339.43" x2="61.4" y2="339.43" stroke="#0000ff" stroke-width="0.85"/>
<circle cx="54.1" cy="339.43" r="1.45" fill="#0000ff"/>
<text font-size="7.2" x="67" y="342.18">U1</text>
<line x1="46.8" y1="349.87" x2="61.4" y2="349.87" stroke="#0000ff" stroke-width="0.85" stroke-dasharray="2.94,1.27"/>
<circle cx="54.1" cy="349.87" r="1.45" fill="#0000ff"/>
<text font-size="7.2" x="67" y="352.62">U2</text>
<line x1="46.8" y1="360.31" x2="61.4" y2="360.31" stroke="#00bfbf" stroke-width="1.15" stroke-dasharray="2.94,1.27"/>
<circle cx="54.1" cy="360.31" r="1.9" fill="#00bfbf"/>
<text font-size="7.2" x="67" y="363.06">Ua</text>
</g>
</g>
<g id="chart4">
<clipPath id="clip4"><rect x="434.5" y="217.4" width="355.7" height="153.6"/></clipPath>
<rect x="434.5" y="217.4" width="355.7" height="153.6" fill="#ffffff"/>
<g clip-path="url(#clip4)">
<polygon points="450.85,253.97 480.25,248.03 509.65,242.95 539.05,241.72 568.45,246.45 597.85,256.86 627.25,256.86 656.65,249.25 686.05,245.75 715.45,247.32 744.85,251.7 774.25,255.03 774.25,256.95 744.85,263.25 715.45,276.55 686.05,292.82 656.65,319.77 627.25,324.68 597.85,325.2 568.45,363.18 539.05,321 509.65,288.98 480.25,270.77 450.85,260.27" fill="#808080" fill-opacity="0.25" stroke="none"/>
<polygon points="450.85,224.75 480.25,224.75 509.65,224.75 539.05,224.75 568.45,224.75 597.85,224.75 627.25,224.75 656.65,224.75 686.05,224.75 715.45,224.75 744.85,224.75 774.25,224.75 774.25,288.01 744.85,288.01 715.45,288.01 686.05,288.01 656.65,288.01 627.25,288.01 597.85,288.01 568.45,288.01 539.05,288.01 509.65,288.01 480.25,288.01 450.85,288.01" fill="#bfbf00" fill-opacity="0.2" stroke="#bfbf00" stroke-opacity="0.45" stroke-width="0.6"/>
<polygon points="450.85,257.4 480.25,257.4 509.65,257.4 539.05,257.4 568.45,257.4 597.85,257.4 627.25,257.4 656.65,257.4 686.05,257.4 715.45,257.4 744.85,257.4 774.25,257.4 774.25,255.2 744.85,252.57 715.45,249.43 686.05,249.25 656.65,252.57 627.25,262.2 597.85,262.2 568.45,251.18 539.05,245.93 509.65,245.93 480.25,249.78 450.85,254.5" fill="#ff0000" fill-opacity="0.2"/>
<polygon points="450.85,257.4 480.25,257.4 509.65,257.4 539.05,257.4 568.45,257.4 597.85,257.4 627.25,257.4 656.65,257.4 686.05,257.4 715.45,257.4 744.85,257.4 774.25,257.4 774.25,257.4 744.85,257.4 715.45,257.4 686.05,257.4 656.65,257.4 627.25,257.4 597.85,257.4 568.45,257.4 539.05,257.4 509.65,257.4 480.25,257.4 450.85,257.4" fill="#00bfbf" fill-opacity="0.2"/>
<g stroke="#b6b6b6" stroke-width="0.7" fill="none">
<line x1="450.85" y1="217.4" x2="450.85" y2="371"/>
<line x1="480.25" y1="217.4" x2="480.25" y2="371"/>
<line x1="509.65" y1="217.4" x2="509.65" y2="371"/>
<line x1="539.05" y1="217.4" x2="539.05" y2="371"/>
<line x1="568.45" y1="217.4" x2="568.45" y2="371"/>
<line x1="597.85" y1="217.4" x2="597.85" y2="371"/>
<line x1="627.25" y1="217.4" x2="627.25" y2="371"/>
<line x1="656.65" y1="217.4" x2="656.65" y2="371"/>
<line x1="686.05" y1="217.4" x2="686.05" y2="371"/>
<line x1="715.45" y1="217.4" x2="715.45" y2="371"/>
<line x1="744.85" y1="217.4" x2="744.85" y2="371"/>
<line x1="774.25" y1="217.4" x2="774.25" y2="371"/>
<line x1="434.5" y1="221.25" x2="790.2" y2="221.25"/>
<line x1="434.5" y1="238.75" x2="790.2" y2="238.75"/>
<line x1="434.5" y1="256.25" x2="790.2" y2="256.25"/>
<line x1="434.5" y1="273.75" x2="790.2" y2="273.75"/>
<line x1="434.5" y1="291.25" x2="790.2" y2="291.25"/>
<line x1="434.5" y1="308.75" x2="790.2" y2="308.75"/>
<line x1="434.5" y1="326.25" x2="790.2" y2="326.25"/>
<line x1="434.5" y1="343.75" x2="790.2" y2="343.75"/>
<line x1="434.5" y1="361.25" x2="790.2" y2="361.25"/>
</g>
<polyline points="450.85,253.97 480.25,248.03 509.65,242.95 539.05,241.72 568.45,246.45 597.85,256.86 627.25,256.86 656.65,249.25 686.05,245.75 715.45,247.32 744.85,251.7 774.25,255.03" fill="none" stroke="#383838" stroke-width="0.75" stroke-dasharray="2.94,1.27"/>
<polyline points="450.85,260.27 480.25,270.77 509.65,288.98 539.05,321 568.45,363.18 597.85,325.2 627.25,324.68 656.65,319.77 686.05,292.82 715.45,276.55 744.85,263.25 774.25,256.95" fill="none" stroke="#383838" stroke-width="0.75" stroke-dasharray="2.94,1.27"/>
<polyline points="450.85,257.4 480.25,257.4 509.65,257.4 539.05,257.4 568.45,257.4 597.85,257.4 627.25,257.4 656.65,257.4 686.05,257.4 715.45,257.4 744.85,257.4 774.25,257.4" fill="none" stroke="#000000" stroke-width="1.15" stroke-dasharray="5.08,1.27,0.79,1.27" stroke-linejoin="round"/>
<g fill="#000000"><circle cx="450.85" cy="257.4" r="1.7"/><circle cx="480.25" cy="257.4" r="1.7"/><circle cx="509.65" cy="257.4" r="1.7"/><circle cx="539.05" cy="257.4" r="1.7"/><circle cx="568.45" cy="257.4" r="1.7"/><circle cx="597.85" cy="257.4" r="1.7"/><circle cx="627.25" cy="257.4" r="1.7"/><circle cx="656.65" cy="257.4" r="1.7"/><circle cx="686.05" cy="257.4" r="1.7"/><circle cx="715.45" cy="257.4" r="1.7"/><circle cx="744.85" cy="257.4" r="1.7"/><circle cx="774.25" cy="257.4" r="1.7"/></g>
<polyline points="450.85,254.5 480.25,249.78 509.65,245.93 539.05,245.93 568.45,251.18 597.85,262.2 627.25,262.2 656.65,252.57 686.05,249.25 715.45,249.43 744.85,252.57 774.25,255.2" fill="none" stroke="#ff0000" stroke-width="1.0" stroke-linejoin="round"/>
<g fill="#ff0000"><circle cx="450.85" cy="254.5" r="1.7"/><circle cx="480.25" cy="249.78" r="1.7"/><circle cx="509.65" cy="245.93" r="1.7"/><circle cx="539.05" cy="245.93" r="1.7"/><circle cx="568.45" cy="251.18" r="1.7"/><circle cx="597.85" cy="262.2" r="1.7"/><circle cx="627.25" cy="262.2" r="1.7"/><circle cx="656.65" cy="252.57" r="1.7"/><circle cx="686.05" cy="249.25" r="1.7"/><circle cx="715.45" cy="249.43" r="1.7"/><circle cx="744.85" cy="252.57" r="1.7"/><circle cx="774.25" cy="255.2" r="1.7"/></g>
<polyline points="450.85,257.4 480.25,257.4 509.65,257.4 539.05,257.4 568.45,257.4 597.85,257.4 627.25,257.4 656.65,257.4 686.05,257.4 715.45,257.4 744.85,257.4 774.25,257.4" fill="none" stroke="#0000ff" stroke-width="0.85" stroke-linejoin="round"/>
<g fill="#0000ff"><circle cx="450.85" cy="257.4" r="1.45"/><circle cx="480.25" cy="257.4" r="1.45"/><circle cx="509.65" cy="257.4" r="1.45"/><circle cx="539.05" cy="257.4" r="1.45"/><circle cx="568.45" cy="257.4" r="1.45"/><circle cx="597.85" cy="257.4" r="1.45"/><circle cx="627.25" cy="257.4" r="1.45"/><circle cx="656.65" cy="257.4" r="1.45"/><circle cx="686.05" cy="257.4" r="1.45"/><circle cx="715.45" cy="257.4" r="1.45"/><circle cx="744.85" cy="257.4" r="1.45"/><circle cx="774.25" cy="257.4" r="1.45"/></g>
<polyline points="450.85,257.4 480.25,257.4 509.65,257.4 539.05,257.4 568.45,257.4 597.85,257.4 627.25,257.4 656.65,257.4 686.05,257.4 715.45,257.4 744.85,257.4 774.25,257.4" fill="none" stroke="#0000ff" stroke-width="0.85" stroke-dasharray="2.94,1.27" stroke-linejoin="round"/>
<g fill="#0000ff"><circle cx="450.85" cy="257.4" r="1.45"/><circle cx="480.25" cy="257.4" r="1.45"/><circle cx="509.65" cy="257.4" r="1.45"/><circle cx="539.05" cy="257.4" r="1.45"/><circle cx="568.45" cy="257.4" r="1.45"/><circle cx="597.85" cy="257.4" r="1.45"/><circle cx="627.25" cy="257.4" r="1.45"/><circle cx="656.65" cy="257.4" r="1.45"/><circle cx="686.05" cy="257.4" r="1.45"/><circle cx="715.45" cy="257.4" r="1.45"/><circle cx="744.85" cy="257.4" r="1.45"/><circle cx="774.25" cy="257.4" r="1.45"/></g>
<polyline points="450.85,257.4 480.25,257.4 509.65,257.4 539.05,257.4 568.45,257.4 597.85,257.4 627.25,257.4 656.65,257.4 686.05,257.4 715.45,257.4 744.85,257.4 774.25,257.4" fill="none" stroke="#00bfbf" stroke-width="1.15" stroke-dasharray="2.94,1.27" stroke-linejoin="round"/>
<g fill="#00bfbf"><circle cx="450.85" cy="257.4" r="1.9"/><circle cx="480.25" cy="257.4" r="1.9"/><circle cx="509.65" cy="257.4" r="1.9"/><circle cx="539.05" cy="257.4" r="1.9"/><circle cx="568.45" cy="257.4" r="1.9"/><circle cx="597.85" cy="257.4" r="1.9"/><circle cx="627.25" cy="257.4" r="1.9"/><circle cx="656.65" cy="257.4" r="1.9"/><circle cx="686.05" cy="257.4" r="1.9"/><circle cx="715.45" cy="257.4" r="1.9"/><circle cx="744.85" cy="257.4" r="1.9"/><circle cx="774.25" cy="257.4" r="1.9"/></g>
</g>
<rect x="434.5" y="217.4" width="355.7" height="153.6" fill="none" stroke="#383838" stroke-width="1.0"/>
<g stroke="#222222" stroke-width="0.9">
<line x1="450.85" y1="371" x2="450.85" y2="373.85"/>
<line x1="480.25" y1="371" x2="480.25" y2="373.85"/>
<line x1="509.65" y1="371" x2="509.65" y2="373.85"/>
<line x1="539.05" y1="371" x2="539.05" y2="373.85"/>
<line x1="568.45" y1="371" x2="568.45" y2="373.85"/>
<line x1="597.85" y1="371" x2="597.85" y2="373.85"/>
<line x1="627.25" y1="371" x2="627.25" y2="373.85"/>
<line x1="656.65" y1="371" x2="656.65" y2="373.85"/>
<line x1="686.05" y1="371" x2="686.05" y2="373.85"/>
<line x1="715.45" y1="371" x2="715.45" y2="373.85"/>
<line x1="744.85" y1="371" x2="744.85" y2="373.85"/>
<line x1="774.25" y1="371" x2="774.25" y2="373.85"/>
<line x1="431.65" y1="221.25" x2="434.5" y2="221.25"/>
<line x1="431.65" y1="238.75" x2="434.5" y2="238.75"/>
<line x1="431.65" y1="256.25" x2="434.5" y2="256.25"/>
<line x1="431.65" y1="273.75" x2="434.5" y2="273.75"/>
<line x1="431.65" y1="291.25" x2="434.5" y2="291.25"/>
<line x1="431.65" y1="308.75" x2="434.5" y2="308.75"/>
<line x1="431.65" y1="326.25" x2="434.5" y2="326.25"/>
<line x1="431.65" y1="343.75" x2="434.5" y2="343.75"/>
<line x1="431.65" y1="361.25" x2="434.5" y2="361.25"/>
</g>
<g font-size="6.35">
<text x="429.1" y="223.57" text-anchor="end">20</text>
<text x="429.1" y="241.07" text-anchor="end">10</text>
<text x="429.1" y="258.57" text-anchor="end">0</text>
<text x="429.1" y="276.07" text-anchor="end">−10</text>
<text x="429.1" y="293.57" text-anchor="end">−20</text>
<text x="429.1" y="311.07" text-anchor="end">−30</text>
<text x="429.1" y="328.57" text-anchor="end">−40</text>
<text x="429.1" y="346.07" text-anchor="end">−50</text>
<text x="429.1" y="363.57" text-anchor="end">−60</text>
<text transform="translate(452.57,376.5) rotate(-90)" text-anchor="end">B101</text>
<text transform="translate(481.97,376.5) rotate(-90)" text-anchor="end">B102</text>
<text transform="translate(511.37,376.5) rotate(-90)" text-anchor="end">B103</text>
<text transform="translate(540.77,376.5) rotate(-90)" text-anchor="end">B104</text>
<text transform="translate(570.17,376.5) rotate(-90)" text-anchor="end">B105</text>
<text transform="translate(599.57,376.5) rotate(-90)" text-anchor="end">B106</text>
<text transform="translate(628.97,376.5) rotate(-90)" text-anchor="end">B206</text>
<text transform="translate(658.37,376.5) rotate(-90)" text-anchor="end">B205</text>
<text transform="translate(687.77,376.5) rotate(-90)" text-anchor="end">B204</text>
<text transform="translate(717.17,376.5) rotate(-90)" text-anchor="end">B203</text>
<text transform="translate(746.57,376.5) rotate(-90)" text-anchor="end">B202</text>
<text transform="translate(775.97,376.5) rotate(-90)" text-anchor="end">B201</text>
</g>
<text font-size="7.9" transform="translate(409.9,294.2) rotate(-90)" text-anchor="middle">U-(mm)</text>
<text font-size="9.55" x="612.65" y="212.7" text-anchor="middle">Displacement of the control points(y)-Arch B</text>
<g>
<rect x="438.1" y="312.8" width="35.5" height="54.3" rx="1.5" ry="1.5" fill="#ffffff" fill-opacity="0.8" stroke="#c8c8c8" stroke-opacity="0.85" stroke-width="0.8"/>
<line x1="440.8" y1="318.55" x2="455.4" y2="318.55" stroke="#000000" stroke-width="1.15" stroke-dasharray="5.08,1.27,0.79,1.27"/>
<circle cx="448.1" cy="318.55" r="1.7" fill="#000000"/>
<text font-size="7.2" x="461" y="321.3">Ut</text>
<line x1="440.8" y1="328.99" x2="455.4" y2="328.99" stroke="#ff0000" stroke-width="1.0"/>
<circle cx="448.1" cy="328.99" r="1.7" fill="#ff0000"/>
<text font-size="7.2" x="461" y="331.74">Un</text>
<line x1="440.8" y1="339.43" x2="455.4" y2="339.43" stroke="#0000ff" stroke-width="0.85"/>
<circle cx="448.1" cy="339.43" r="1.45" fill="#0000ff"/>
<text font-size="7.2" x="461" y="342.18">U1</text>
<line x1="440.8" y1="349.87" x2="455.4" y2="349.87" stroke="#0000ff" stroke-width="0.85" stroke-dasharray="2.94,1.27"/>
<circle cx="448.1" cy="349.87" r="1.45" fill="#0000ff"/>
<text font-size="7.2" x="461" y="352.62">U2</text>
<line x1="440.8" y1="360.31" x2="455.4" y2="360.31" stroke="#00bfbf" stroke-width="1.15" stroke-dasharray="2.94,1.27"/>
<circle cx="448.1" cy="360.31" r="1.9" fill="#00bfbf"/>
<text font-size="7.2" x="461" y="363.06">Ua</text>
</g>
</g>
<g fill="#4d4d4d">
<rect x="0" y="0" width="800" height="1.6"/>
<rect x="0" y="401.1" width="800" height="1.9"/>
<rect x="0" y="0" width="2" height="403"/>
<rect x="798.2" y="0" width="1.8" height="403"/>
</g>
</svg>
</body></html>
